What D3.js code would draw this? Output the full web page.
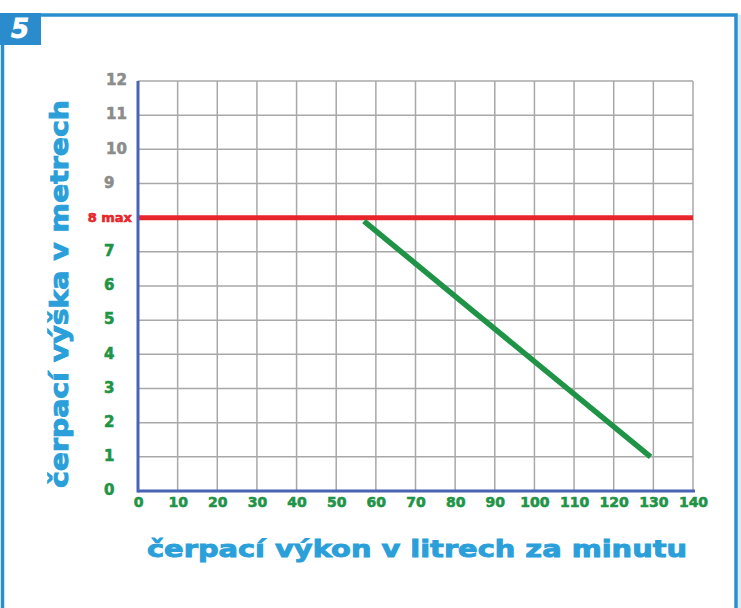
<!DOCTYPE html>
<html><head><meta charset="utf-8">
<script src="https://cdn.jsdelivr.net/npm/d3@7"></script>
<style>html,body{margin:0;padding:0;background:#fff;}svg{display:block;}</style>
</head><body>
<svg id="c" width="741" height="608"></svg>
<script>
// ---- data ----
const xTicks = [0,10,20,30,40,50,60,70,80,90,100,110,120,130,140];
const yTicks = [0,1,2,3,4,5,6,7,8,9,10,11,12];
const yTickLabels = ["0","1","2","3","4","5","6","7","8 max","9","10","11","12"];
const maxHeight = 8;
const curveFlow = [57, 85, 129.3];
const curveHead = [7.9, 5.22, 1.0];
const xTitle = "čerpací výkon v litrech za minutu";
const yTitle = "čerpací výška v metrech";
const badge = "5";

const svg = d3.select("#c");
const FONT = "'DejaVu Sans', sans-serif";
const x = d3.scaleLinear().domain([0,140]).range([138,693]);
const y = d3.scaleLinear().domain([0,12]).range([491,81]);

// frame
svg.append("path").attr("d","M2.5,608 L2.5,15 L736,15 L736,608")
  .attr("fill","none").attr("stroke","#2a8fd0").attr("stroke-width",3.5);
svg.append("rect").attr("x",738).attr("y",15).attr("width",3).attr("height",593).attr("fill","#d6ecf8");
svg.append("rect").attr("x",0).attr("y",13).attr("width",41).attr("height",32).attr("fill","#2a8ccc");
svg.append("text").attr("x",20).attr("y",38).attr("text-anchor","middle")
  .attr("font-family",FONT).attr("font-weight","bold").attr("font-style","italic")
  .attr("font-size",26).attr("fill","#fff").attr("stroke","#fff").attr("stroke-width",0.8).text(badge);

// grid
const g = svg.append("g");
g.selectAll("line.v").data(xTicks.filter(d=>d>0)).join("line")
  .attr("x1",d=>x(d)).attr("x2",d=>x(d)).attr("y1",y(12)).attr("y2",y(0))
  .attr("stroke","#a8a8a8").attr("stroke-width",1.5);
g.selectAll("line.h").data(yTicks.filter(d=>d>0)).join("line")
  .attr("x1",x(0)).attr("x2",x(140)).attr("y1",d=>y(d)).attr("y2",d=>y(d))
  .attr("stroke","#a8a8a8").attr("stroke-width",1.5);

// red max line
svg.append("line").attr("x1",x(0)).attr("x2",x(140)).attr("y1",y(maxHeight)).attr("y2",y(maxHeight))
  .attr("stroke","#e8252b").attr("stroke-width",5);

// axes lines
svg.append("line").attr("x1",x(0)).attr("x2",x(140)+2).attr("y1",y(0)).attr("y2",y(0))
  .attr("stroke","#4b63b4").attr("stroke-width",3);
svg.append("line").attr("x1",x(0)).attr("x2",x(0)).attr("y1",y(12)).attr("y2",y(0)+1.5)
  .attr("stroke","#4b63b4").attr("stroke-width",3);

// curve
const pts = curveFlow.map((f,i)=>[f,curveHead[i]]);
svg.append("path").datum(pts)
  .attr("d", d3.line().x(d=>x(d[0])).y(d=>y(d[1])))
  .attr("fill","none").attr("stroke","#1f9447").attr("stroke-width",5.5);

// x axis labels
const xa = svg.append("g").attr("transform",`translate(0,${y(0)})`)
  .call(d3.axisBottom(x).tickValues(xTicks).tickSize(0).tickPadding(5));
xa.select(".domain").remove();
xa.selectAll("text").attr("font-family",FONT).attr("font-weight","bold")
  .attr("font-size",14).attr("fill","#1f9447").attr("stroke","#1f9447").attr("stroke-width",0.6)
  .attr("dy","0.8em");

// y axis labels
const ya = svg.append("g").attr("transform",`translate(${x(0)},0)`)
  .call(d3.axisLeft(y).tickValues(yTicks).tickSize(0).tickFormat((d,i)=>yTickLabels[i]));
ya.select(".domain").remove();
ya.selectAll(".tick text")
  .attr("font-family",FONT).attr("font-weight","bold")
  .attr("text-anchor",d=>d===maxHeight?"end":"start")
  .attr("x",d=>d===maxHeight? -6 : (d>=10? -32 : -34))
  .attr("dy",d=>d===maxHeight?"0.32em":"0.25em")
  .attr("font-size",d=>d===maxHeight?13:15)
  .attr("fill",d=>d>maxHeight?"#8c8c8c":(d===maxHeight?"#e8252b":"#1f9447"))
  .attr("stroke",d=>d>maxHeight?"#8c8c8c":(d===maxHeight?"#e8252b":"#1f9447"))
  .attr("stroke-width",0.6);

// titles
svg.append("text").attr("x",417).attr("y",557).attr("text-anchor","middle")
  .attr("font-family",FONT).attr("font-weight","bold").attr("font-size",23)
  .attr("fill","#2a9fd9").attr("stroke","#2a9fd9").attr("stroke-width",0.9)
  .attr("textLength",540).attr("lengthAdjust","spacingAndGlyphs").text(xTitle);
svg.append("text").attr("transform","translate(68,294) rotate(-90)").attr("text-anchor","middle")
  .attr("font-family",FONT).attr("font-weight","bold").attr("font-size",24)
  .attr("fill","#2a9fd9").attr("stroke","#2a9fd9").attr("stroke-width",0.9)
  .attr("textLength",388).attr("lengthAdjust","spacingAndGlyphs").text(yTitle);
</script>
</body></html>
